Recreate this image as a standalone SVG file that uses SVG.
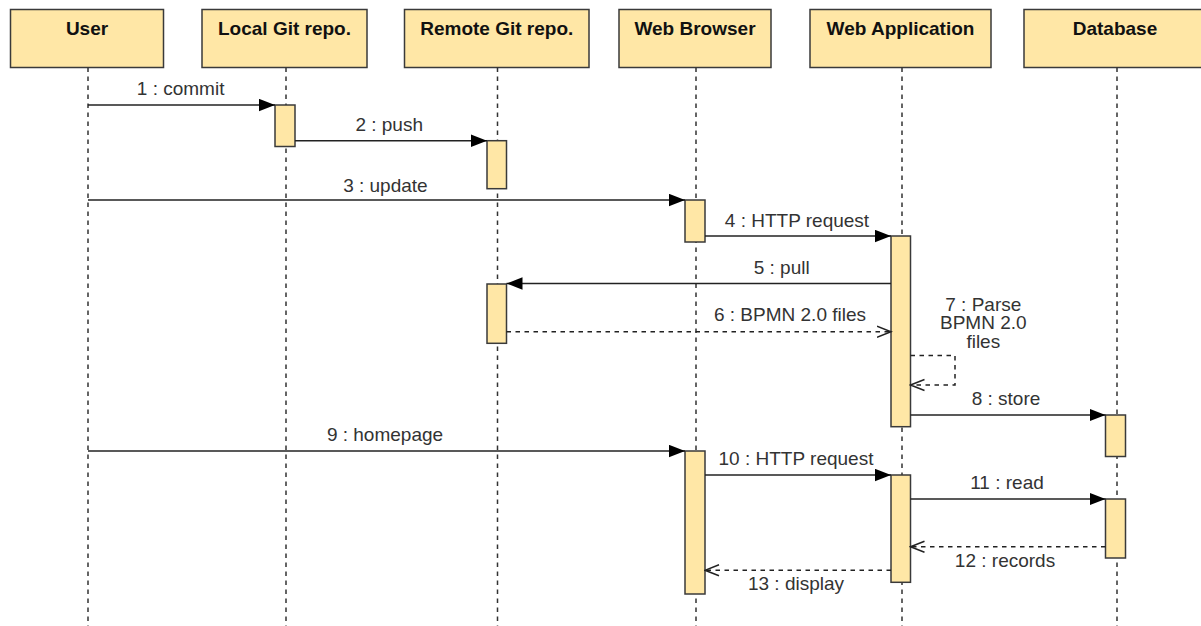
<svg xmlns="http://www.w3.org/2000/svg" width="1201" height="626" viewBox="0 0 1201 626">
  <style>
    .head { fill: #FFE7A6; stroke: #3a3a3a; stroke-width: 1.5; }
    .act { fill: #FFE7A6; stroke: #3a3a3a; stroke-width: 1.5; }
    .life { stroke: #333; stroke-width: 1.5; stroke-dasharray: 4.5 4.5; fill: none; }
    .title { font-family: "Liberation Sans", Arial, Helvetica, sans-serif; font-size: 19px; font-weight: bold; fill: #111; text-anchor: middle; }
    .msg { stroke: #222; stroke-width: 1.5; fill: none; }
    .call { marker-end: url(#block); }
    .ret { stroke-dasharray: 4.5 4.5; marker-end: url(#open); }
    .lbl { font-family: "Liberation Sans", Arial, Helvetica, sans-serif; font-size: 19px; fill: #333; text-anchor: middle; }
  </style>
  <defs>
    <marker id="block" markerUnits="userSpaceOnUse" markerWidth="17" markerHeight="14" refX="16" refY="6.5" orient="auto">
      <path d="M0,0.3 L16,6.5 L0,12.7 Z" fill="#000"/>
    </marker>
    <marker id="open" markerUnits="userSpaceOnUse" markerWidth="16" markerHeight="14" refX="14.5" refY="6.5" orient="auto">
      <path d="M0.5,1 L14.5,6.5 L0.5,12" fill="none" stroke="#222" stroke-width="1.5"/>
    </marker>
  </defs>

  <rect width="1201" height="626" fill="#fff"/>

  <!-- participants: header box, lifeline -->
  <g id="user">
    <rect class="head" x="10.5" y="9.5" width="153" height="58"/>
    <text class="title" x="87" y="34.5">User</text>
    <line class="life" x1="88" y1="67.5" x2="88" y2="626"/>
  </g>
  <g id="local-git">
    <rect class="head" x="202" y="9.5" width="165" height="58"/>
    <text class="title" x="284.5" y="34.5">Local Git repo.</text>
    <line class="life" x1="286" y1="67.5" x2="286" y2="626"/>
  </g>
  <g id="remote-git">
    <rect class="head" x="404.5" y="9.5" width="184.5" height="58"/>
    <text class="title" x="496.8" y="34.5">Remote Git repo.</text>
    <line class="life" x1="497.5" y1="67.5" x2="497.5" y2="626"/>
  </g>
  <g id="web-browser">
    <rect class="head" x="619" y="9.5" width="152" height="58"/>
    <text class="title" x="695" y="34.5">Web Browser</text>
    <line class="life" x1="696" y1="67.5" x2="696" y2="626"/>
  </g>
  <g id="web-app">
    <rect class="head" x="810" y="9.5" width="181" height="58"/>
    <text class="title" x="900.5" y="34.5">Web Application</text>
    <line class="life" x1="902" y1="67.5" x2="902" y2="626"/>
  </g>
  <g id="database">
    <rect class="head" x="1024" y="9.5" width="186" height="58"/>
    <text class="title" x="1115" y="34.5">Database</text>
    <line class="life" x1="1117" y1="67.5" x2="1117" y2="626"/>
  </g>

  <!-- activation bars -->
  <g id="activations">
    <rect class="act" x="275" y="105" width="20" height="41.5"/>
    <rect class="act" x="487" y="140.7" width="19.5" height="48"/>
    <rect class="act" x="685" y="200" width="20" height="42"/>
    <rect class="act" x="891" y="236" width="19.5" height="190.7"/>
    <rect class="act" x="487" y="284" width="19.5" height="59.3"/>
    <rect class="act" x="1105.5" y="415" width="20" height="41.5"/>
    <rect class="act" x="685" y="451" width="20" height="143"/>
    <rect class="act" x="891" y="475" width="19.5" height="107.3"/>
    <rect class="act" x="1105.5" y="499" width="20" height="59"/>
  </g>

  <!-- messages -->
  <g id="connectors">
    <line class="msg call" x1="88" y1="105" x2="275" y2="105"/>
    <line class="msg call" x1="295" y1="140.7" x2="487" y2="140.7"/>
    <line class="msg call" x1="88" y1="200" x2="685" y2="200"/>
    <line class="msg call" x1="705" y1="236" x2="891" y2="236"/>
    <line class="msg call" x1="891" y1="283.5" x2="506.5" y2="283.5"/>
    <line class="msg ret" x1="506.5" y1="331.7" x2="891" y2="331.7"/>
    <polyline class="msg ret" points="910.5,355.5 955,355.5 955,385 910.5,385"/>
    <line class="msg call" x1="910.5" y1="415" x2="1105.5" y2="415"/>
    <line class="msg call" x1="88" y1="451" x2="685" y2="451"/>
    <line class="msg call" x1="705" y1="475" x2="891" y2="475"/>
    <line class="msg call" x1="910.5" y1="499" x2="1105.5" y2="499"/>
    <line class="msg ret" x1="1105.5" y1="546.7" x2="910.5" y2="546.7"/>
    <line class="msg ret" x1="891" y1="570.3" x2="705" y2="570.3"/>
  </g>

  <!-- message labels -->
  <g id="labels">
    <text class="lbl" x="180.6" y="95">1 : commit</text>
    <text class="lbl" x="389.2" y="131">2 : push</text>
    <text class="lbl" x="385.4" y="191.7">3 : update</text>
    <text class="lbl" x="797" y="226.5">4 : HTTP request</text>
    <text class="lbl" x="781.7" y="274">5 : pull</text>
    <text class="lbl" x="790" y="320.7">6 : BPMN 2.0 files</text>
    <text class="lbl" x="983.3" y="310.7">7 : Parse</text>
    <text class="lbl" x="983.3" y="329.3">BPMN 2.0</text>
    <text class="lbl" x="983.3" y="348.3">files</text>
    <text class="lbl" x="1006" y="405">8 : store</text>
    <text class="lbl" x="385" y="440.7">9 : homepage</text>
    <text class="lbl" x="796" y="465">10 : HTTP request</text>
    <text class="lbl" x="1007" y="489">11 : read</text>
    <text class="lbl" x="1005" y="566.7">12 : records</text>
    <text class="lbl" x="796" y="590">13 : display</text>
  </g>
</svg>
